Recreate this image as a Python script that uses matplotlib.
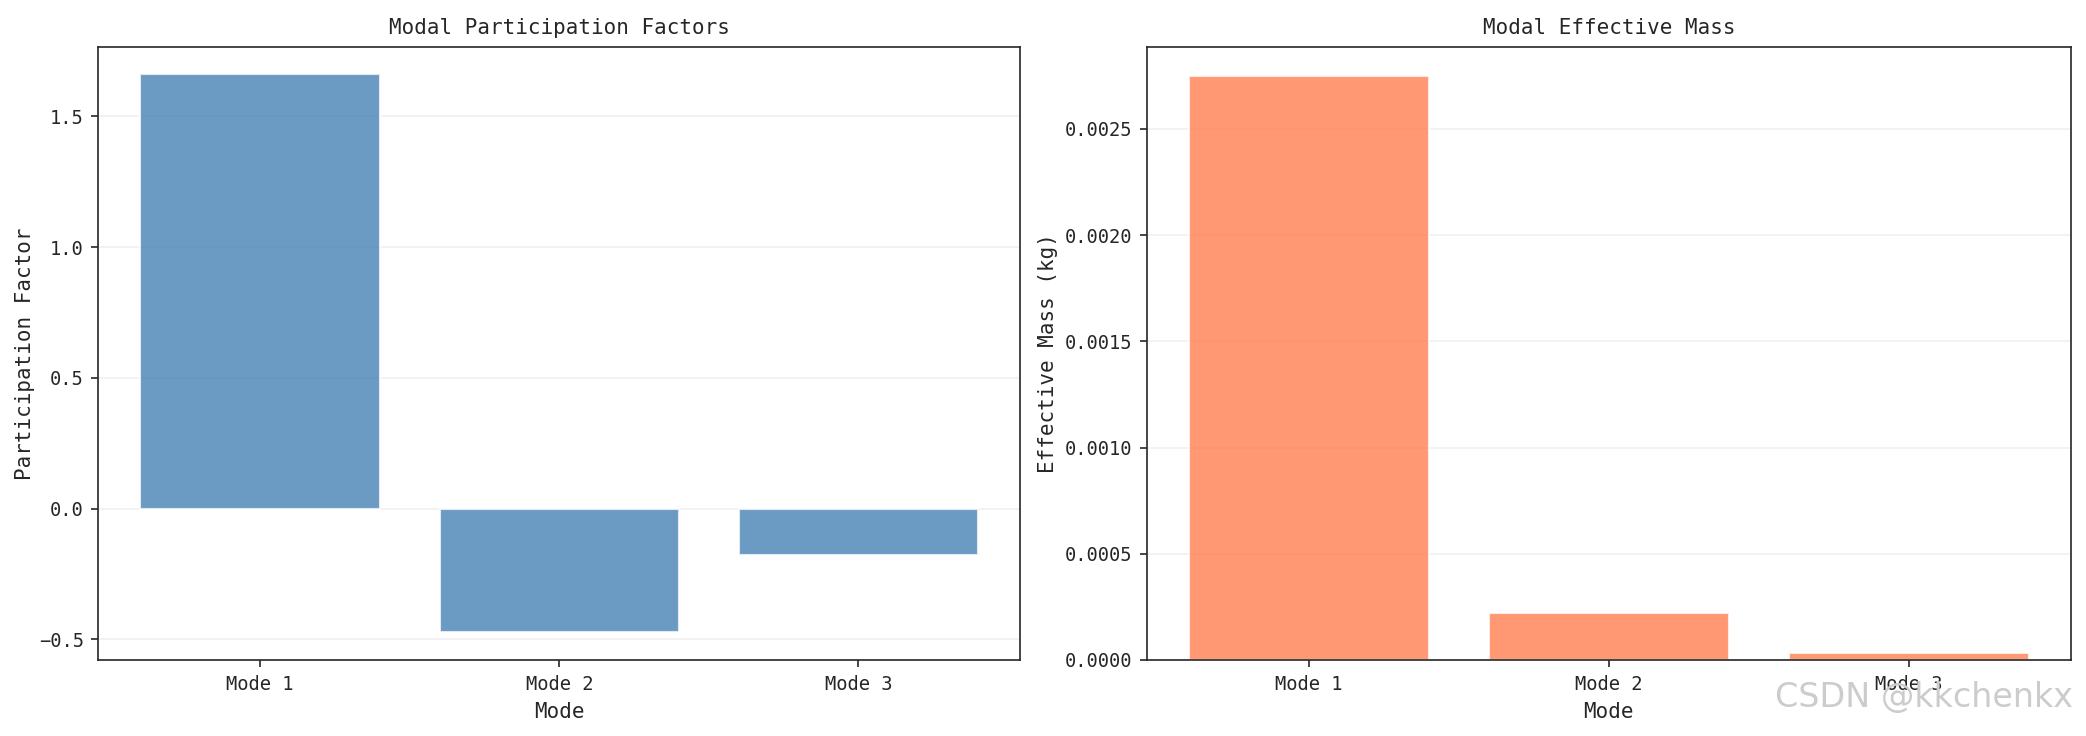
import matplotlib
matplotlib.use("Agg")
import matplotlib.pyplot as plt
import seaborn as sns
import numpy as np

modes = ["Mode 1", "Mode 2", "Mode 3"]
participation = [1.66, -0.472, -0.178]
effective_mass = [0.00275, 0.000223, 0.0000317]

sns.set_style("ticks")
plt.rcParams['font.family'] = ['DejaVu Sans Mono']
plt.rcParams['axes.unicode_minus'] = True

W, H, DPI = 2086, 736, 150
fig = plt.figure(figsize=(W / DPI, H / DPI), dpi=DPI)
ax1 = fig.add_axes([0.0472, 0.1033, 0.4418, 0.8334])
ax2 = fig.add_axes([0.5497, 0.1033, 0.4431, 0.8334])

x = np.arange(len(modes))
ax1.bar(x, participation, color="steelblue", alpha=0.8)
ax1.set_xticks(x)
ax1.set_xticklabels(modes)
ax1.set_xlabel("Mode", fontsize=10)
ax1.set_ylabel("Participation Factor", fontsize=10, labelpad=2)
ax1.set_title("Modal Participation Factors", fontsize=10)
ax1.grid(True, axis="y", alpha=0.3)

ax2.bar(x, effective_mass, color="coral", alpha=0.8)
ax2.set_xticks(x)
ax2.set_xticklabels(modes)
ax2.set_xlabel("Mode", fontsize=10)
ax2.set_ylabel("Effective Mass (kg)", fontsize=10, labelpad=3)
ax2.set_title("Modal Effective Mass", fontsize=10)
ax2.grid(True, axis="y", alpha=0.3)
ax2.set_yticks([0, 0.0005, 0.001, 0.0015, 0.002, 0.0025])
ax2.set_yticklabels(["0.0000", "0.0005", "0.0010", "0.0015", "0.0020", "0.0025"])

for ax in (ax1, ax2):
    ax.tick_params(labelsize=9)
    for s in ax.spines.values():
        s.set_visible(True)

fig.text(0.994, 0.03, "CSDN @kkchenkx", ha="right", va="bottom",
         fontsize=16, color="#cccccc", family="DejaVu Sans")

fig.savefig("out.png", dpi=DPI)
